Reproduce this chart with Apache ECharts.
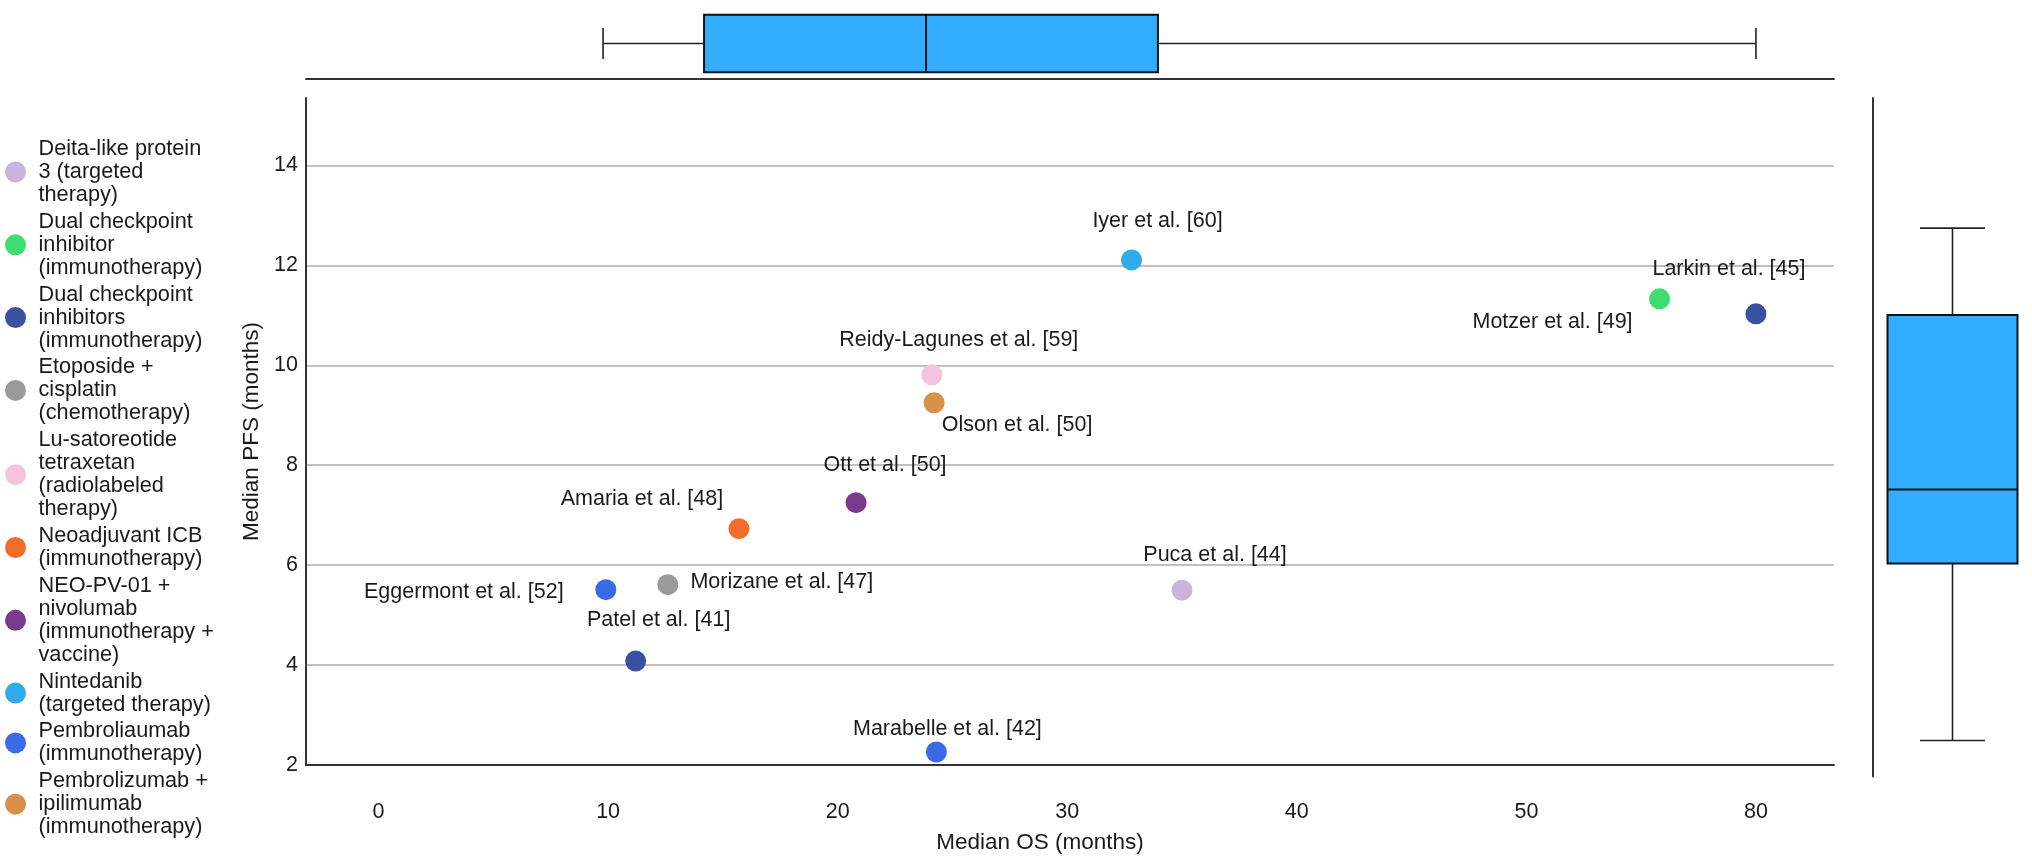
<!DOCTYPE html>
<html><head><meta charset="utf-8">
<script src="https://cdn.jsdelivr.net/npm/echarts@6.0.0/dist/echarts.min.js"></script>
<style>html,body{margin:0;padding:0;background:#fff}#c{width:2032px;height:859px}</style>
</head><body><div id="c"></div>
<script>
// ---- data ----
const categories = [
  'Deita-like protein\n3 (targeted\ntherapy)',
  'Dual checkpoint\ninhibitor\n(immunotherapy)',
  'Dual checkpoint\ninhibitors\n(immunotherapy)',
  'Etoposide +\ncisplatin\n(chemotherapy)',
  'Lu-satoreotide\ntetraxetan\n(radiolabeled\ntherapy)',
  'Neoadjuvant ICB\n(immunotherapy)',
  'NEO-PV-01 +\nnivolumab\n(immunotherapy +\nvaccine)',
  'Nintedanib\n(targeted therapy)',
  'Pembroliaumab\n(immunotherapy)',
  'Pembrolizumab +\nipilimumab\n(immunotherapy)'
];
const studies = ['Puca et al. [44]','Motzer et al. [49]','Larkin et al. [45]','Patel et al. [41]',
  'Morizane et al. [47]','Reidy-Lagunes et al. [59]','Amaria et al. [48]','Ott et al. [50]',
  'Iyer et al. [60]','Eggermont et al. [52]','Marabelle et al. [42]','Olson et al. [50]'];
const studyCategory = [0,1,2,2,3,4,5,6,7,8,8,9];
const osMonths  = [35.0,55.8,80,11.2,12.6,24.1,15.7,20.8,32.8,9.9,24.3,24.2];
const pfsMonths = [5.5,11.33,11.03,4.08,5.61,9.81,6.73,7.25,12.11,5.51,2.26,9.25];
const xTicks = [0,10,20,30,40,50,80];
const yTicks = [2,4,6,8,10,12,14];
const osBox  = [9.78,14.18,23.85,33.95,80];   // min, Q1, median, Q3, max
const pfsBox = [2.71,6.19,7.65,11.08,12.79];

// ---- styles ----
const categoryColors = ['#c8b4de','#3fdc70','#3a50a0','#9a9a9a','#f7c3dc','#f36c2c','#7a3a8e','#2fabeb','#3a6ae8','#d99148'];
const labelOffsets = {
  'Puca et al. [44]':[33,-35], 'Motzer et al. [49]':[-107,23], 'Larkin et al. [45]':[-27,-45],
  'Patel et al. [41]':[23,-41], 'Morizane et al. [47]':[114,-3], 'Reidy-Lagunes et al. [59]':[27,-35],
  'Amaria et al. [48]':[-97,-30], 'Ott et al. [50]':[29,-38], 'Iyer et al. [60]':[26,-39],
  'Eggermont et al. [52]':[-142,2], 'Marabelle et al. [42]':[11,-23], 'Olson et al. [50]':[83,22]
};
const FONT = "'Liberation Sans', Arial, Helvetica, sans-serif";
const TXT = '#1a1a1a';
const BOX_FILL = '#33adff';
const AX = '#333';
const xBreak = [{ start: 60, end: 80, gap: 0 }];
const xMin = -3.16, xMax = 83.4, yMin = 2, yMax = 15.35;

const scatterSeries = categories.map((cat, c) => ({
  type: 'scatter', name: cat, xAxisIndex: 0, yAxisIndex: 0,
  symbolSize: 21,
  itemStyle: { color: categoryColors[c], opacity: 1 },
  data: studies.map((s, i) => i).filter(i => studyCategory[i] === c).map(i => ({
    name: studies[i], value: [osMonths[i], pfsMonths[i]],
    label: { show: true, position: 'inside', offset: labelOffsets[studies[i]], formatter: studies[i],
      color: TXT, fontSize: 21.5, fontFamily: FONT, align: 'center', verticalAlign: 'middle' }
  })),
  emphasis: { disabled: true }, z: 5
}));

function boxGroup(api, horizontal, boxW, capW) {
  const pt = i => horizontal ? api.coord([api.value(i), 0.5]) : api.coord([0.5, api.value(i)]);
  const p = [0,1,2,3,4].map(pt);
  const thin = { stroke: '#222', lineWidth: 1.6 };
  const thick = { stroke: '#111', lineWidth: 2 };
  const hb = boxW / 2, hc = capW / 2;
  const ch = [];
  if (horizontal) {
    const y = p[0][1];
    ch.push({ type: 'line', shape: { x1: p[0][0], y1: y, x2: p[1][0], y2: y }, style: thin });
    ch.push({ type: 'line', shape: { x1: p[3][0], y1: y, x2: p[4][0], y2: y }, style: thin });
    ch.push({ type: 'line', shape: { x1: p[0][0], y1: y - hc, x2: p[0][0], y2: y + hc }, style: thin });
    ch.push({ type: 'line', shape: { x1: p[4][0], y1: y - hc, x2: p[4][0], y2: y + hc }, style: thin });
    ch.push({ type: 'rect', shape: { x: p[1][0], y: y - hb, width: p[3][0] - p[1][0], height: boxW }, style: { fill: BOX_FILL, stroke: '#111', lineWidth: 2 } });
    ch.push({ type: 'line', shape: { x1: p[2][0], y1: y - hb, x2: p[2][0], y2: y + hb }, style: thick });
  } else {
    const x = p[0][0];
    ch.push({ type: 'line', shape: { x1: x, y1: p[0][1], x2: x, y2: p[1][1] }, style: thin });
    ch.push({ type: 'line', shape: { x1: x, y1: p[3][1], x2: x, y2: p[4][1] }, style: thin });
    ch.push({ type: 'line', shape: { x1: x - hc, y1: p[0][1], x2: x + hc, y2: p[0][1] }, style: thin });
    ch.push({ type: 'line', shape: { x1: x - hc, y1: p[4][1], x2: x + hc, y2: p[4][1] }, style: thin });
    ch.push({ type: 'rect', shape: { x: x - hb, y: p[3][1], width: boxW, height: p[1][1] - p[3][1] }, style: { fill: BOX_FILL, stroke: '#111', lineWidth: 2 } });
    ch.push({ type: 'line', shape: { x1: x - hb, y1: p[2][1], x2: x + hb, y2: p[2][1] }, style: thick });
  }
  return { type: 'group', children: ch };
}

const chart = echarts.init(document.getElementById('c'));
chart.setOption({
  backgroundColor: '#fff',
  animation: false,
  textStyle: { fontFamily: FONT, color: TXT },
  legend: {
    orient: 'vertical', left: 5, top: 137.5, padding: 0,
    icon: 'circle', itemWidth: 36, itemHeight: 21, itemGap: 3.8,
    data: categories,
    textStyle: { fontSize: 21.7, lineHeight: 23, color: TXT, fontFamily: FONT },
    selectedMode: false
  },
  grid: [
    { left: 306, right: 198, top: 98, bottom: 82.4 },
    { left: 306, right: 198, top: 8, height: 71 },
    { left: 1873, right: 0, top: 98, bottom: 82.4 }
  ],
  xAxis: [
    { type: 'value', gridIndex: 0, min: xMin, max: xMax, breaks: xBreak, breakArea: { show: false },
      axisLine: { show: true, onZero: false, lineStyle: { color: AX, width: 2 } },
      axisTick: { show: false }, splitLine: { show: false },
      axisLabel: { customValues: xTicks, color: TXT, fontSize: 21.5, fontFamily: FONT, margin: 36 },
      name: 'Median OS (months)', nameLocation: 'middle', nameGap: 66,
      nameTextStyle: { color: TXT, fontSize: 22.5, fontFamily: FONT, padding: [0, 60, 0, 0] } },
    { type: 'value', gridIndex: 1, min: xMin, max: xMax, breaks: xBreak, breakArea: { show: false },
      axisLine: { show: true, onZero: false, lineStyle: { color: AX, width: 2 } },
      axisTick: { show: false }, splitLine: { show: false }, axisLabel: { show: false } },
    { type: 'value', gridIndex: 2, min: 0, max: 1, show: false }
  ],
  yAxis: [
    { type: 'value', gridIndex: 0, min: yMin, max: yMax, interval: 2,
      axisLine: { show: true, onZero: false, lineStyle: { color: AX, width: 2 } },
      axisTick: { show: false },
      splitLine: { show: true, showMaxLine: false, lineStyle: { color: '#ababab', width: 1.6 } },
      axisLabel: { color: TXT, fontSize: 21.5, fontFamily: FONT, margin: 8, showMaxLabel: false,
        formatter: v => (yTicks.indexOf(v) >= 0 ? String(v) : '') },
      name: 'Median PFS (months)', nameLocation: 'middle', nameGap: 38,
      nameTextStyle: { color: TXT, fontSize: 22.5, fontFamily: FONT } },
    { type: 'value', gridIndex: 1, min: 0, max: 1, show: false },
    { type: 'value', gridIndex: 2, min: yMin, max: yMax,
      axisLine: { show: true, onZero: false, lineStyle: { color: AX, width: 2 } },
      axisTick: { show: false }, splitLine: { show: false }, axisLabel: { show: false } }
  ],
  series: scatterSeries.concat([
    { type: 'custom', xAxisIndex: 1, yAxisIndex: 1, clip: false, silent: true,
      encode: { x: [0,1,2,3,4] }, data: [osBox],
      renderItem: (params, api) => boxGroup(api, true, 57.6, 31) },
    { type: 'custom', xAxisIndex: 2, yAxisIndex: 2, clip: false, silent: true,
      encode: { y: [0,1,2,3,4] }, data: [pfsBox],
      renderItem: (params, api) => boxGroup(api, false, 130, 65) }
  ])
});
</script></body></html>
